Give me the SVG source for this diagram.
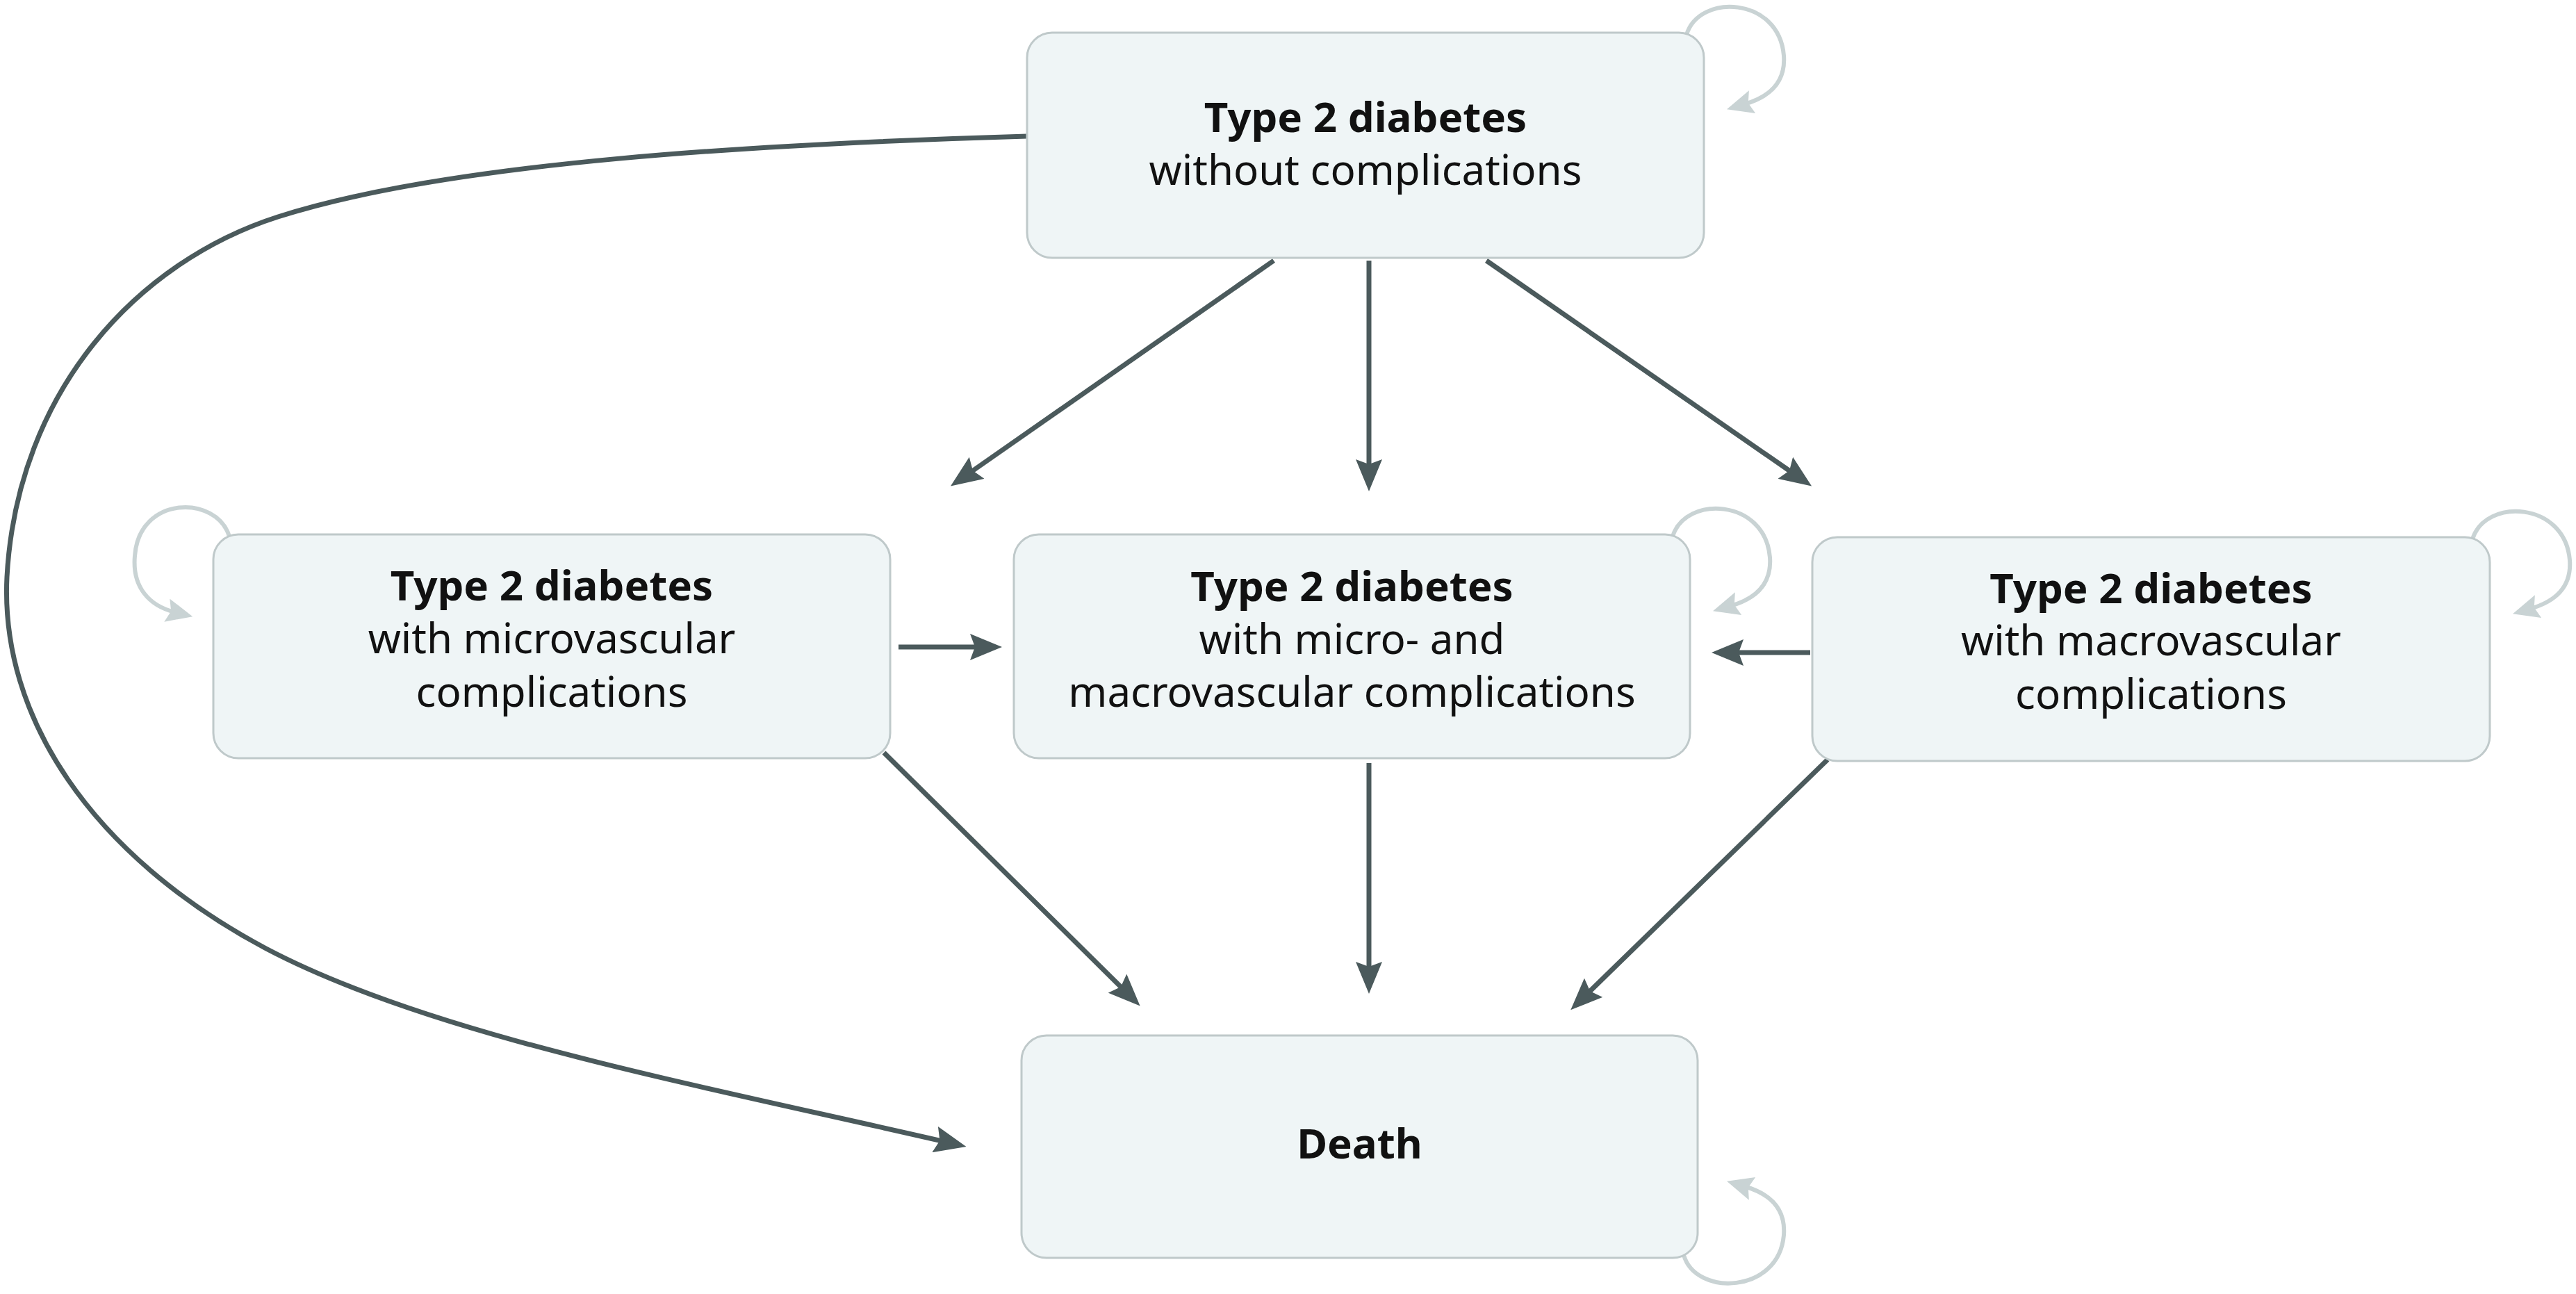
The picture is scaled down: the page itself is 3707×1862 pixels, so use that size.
<svg xmlns="http://www.w3.org/2000/svg" width="3707" height="1862" viewBox="0 0 3707 1862">
<style>
.node rect{fill:#eff5f6;stroke:#bfc9ca;stroke-width:3}
.node text{font-family:"Noto Sans","Open Sans","DejaVu Sans",sans-serif;font-size:60px;fill:#111;text-anchor:middle}
.node .b{font-weight:bold}
.edge{fill:none;stroke:#4b5a5c;stroke-width:7;marker-end:url(#arr)}
.loop{fill:none;stroke:#c9d3d4;stroke-width:6;marker-end:url(#larr)}
</style>
<defs>
<marker id="arr" markerUnits="userSpaceOnUse" markerWidth="46" markerHeight="38" viewBox="0 0 46 38" refX="24" refY="19" orient="auto">
<path d="M0,0 L46,19 L0,38 L7,19 Z" fill="#4b5a5c"/>
</marker>
<marker id="larr" markerUnits="userSpaceOnUse" markerWidth="38" markerHeight="34" viewBox="0 0 38 34" refX="12" refY="17" orient="auto">
<path d="M0,0 L38,17 L0,34 L6,17 Z" fill="#c9d3d4"/>
</marker>
</defs>
<g id="connectors">
<path class="edge" d="M1478,196 C1100,207 650,232 400,312 C200,376 25,560 10,830 C0,1030 130,1230 383,1365 C620,1490 1000,1560 1369,1645"/>
<line class="edge" x1="1833" y1="375" x2="1386" y2="687"/>
<line class="edge" x1="1970" y1="375" x2="1970" y2="685"/>
<line class="edge" x1="2139" y1="375" x2="2589" y2="687"/>
<line class="edge" x1="1293" y1="931" x2="1420" y2="931"/>
<line class="edge" x1="2605" y1="939" x2="2485" y2="939"/>
<line class="edge" x1="1272" y1="1083" x2="1625" y2="1432"/>
<line class="edge" x1="1970" y1="1098" x2="1970" y2="1408"/>
<line class="edge" x1="2630" y1="1093" x2="2276" y2="1438"/>
<path class="loop" d="M2427,50 C2445,-10 2560,-5 2567,80 C2570,120 2545,140 2510,150"/>
<path class="loop" d="M2407,772 C2425,712 2540,717 2547,802 C2550,842 2525,862 2490,872"/>
<path class="loop" d="M3558,776 C3576,716 3691,721 3698,806 C3701,846 3676,866 3641,876"/>
<path class="loop" d="M330,772 C312,712 200,712 194,800 C190,845 215,872 252,881"/>
<path class="loop" d="M2423,1806 C2440,1866 2560,1862 2567,1777 C2570,1737 2545,1717 2510,1707"/>
</g>
<g id="node-top" class="node">
<rect x="1478" y="47" width="974" height="324" rx="36"/>
<text class="b" x="1965" y="190">Type 2 diabetes</text>
<text x="1965" y="266">without complications</text>
</g>
<g id="node-micro" class="node">
<rect x="307" y="769" width="974" height="322" rx="36"/>
<text class="b" x="794" y="864">Type 2 diabetes</text>
<text x="794" y="940">with microvascular</text>
<text x="794" y="1017">complications</text>
</g>
<g id="node-both" class="node">
<rect x="1459" y="769" width="973" height="322" rx="36"/>
<text class="b" x="1945.5" y="865">Type 2 diabetes</text>
<text x="1945.5" y="941">with micro- and</text>
<text x="1945.5" y="1017">macrovascular complications</text>
</g>
<g id="node-macro" class="node">
<rect x="2608" y="773" width="975" height="322" rx="36"/>
<text class="b" x="3095.5" y="868">Type 2 diabetes</text>
<text x="3095.5" y="943">with macrovascular</text>
<text x="3095.5" y="1020">complications</text>
</g>
<g id="node-death" class="node">
<rect x="1470" y="1490" width="973" height="320" rx="36"/>
<text class="b" x="1956.5" y="1667">Death</text>
</g>
</svg>
